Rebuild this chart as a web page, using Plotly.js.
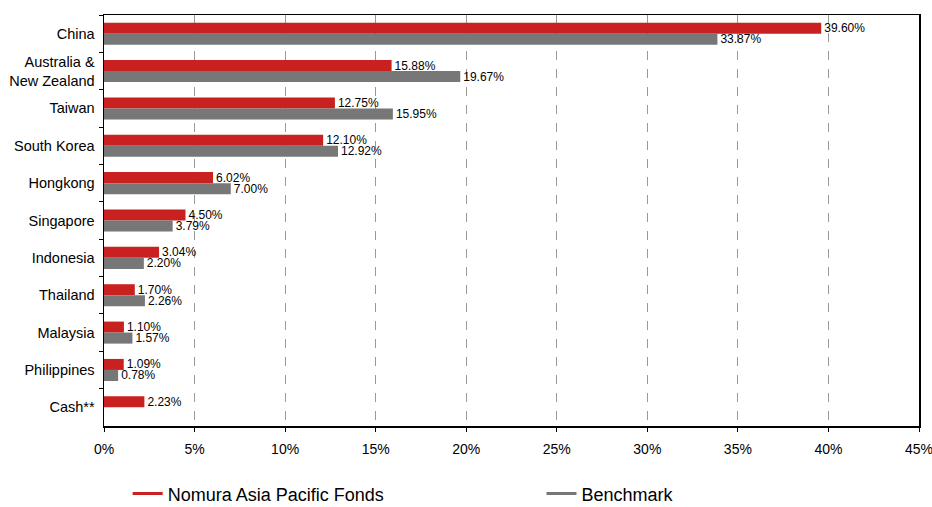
<!DOCTYPE html>
<html><head><meta charset="utf-8">
<script src="https://cdn.plot.ly/plotly-3.0.1.min.js"></script>
<style>html,body{margin:0;padding:0;background:#fff}#chart{width:932px;height:507px}</style>
</head><body><div id="chart"></div>
<script>
const categories = ["China","Australia &<br>New Zealand","Taiwan","South Korea","Hongkong","Singapore","Indonesia","Thailand","Malaysia","Philippines","Cash**"];
const fundValues = [39.60,15.88,12.75,12.10,6.02,4.50,3.04,1.70,1.10,1.09,2.23];
const benchValues = [33.87,19.67,15.95,12.92,7.00,3.79,2.20,2.26,1.57,0.78,null];
const tickVals = [0,5,10,15,20,25,30,35,40,45];
const tickText = tickVals.map(v => v + "%");
const seriesNames = ["Nomura Asia Pacific Fonds","Benchmark"];
const RED = "#C9211F", GRAY = "#777777";
const font = "Liberation Sans, Arial, sans-serif";

const traces = [
  {type:"bar", orientation:"h", y:categories, x:fundValues, name:seriesNames[0], marker:{color:RED},
   texttemplate:"%{x:.2f}%", textposition:"outside", constraintext:"none", textfont:{size:12,color:"#000",family:font},
   cliponaxis:false, showlegend:false, hoverinfo:"x+y"},
  {type:"bar", orientation:"h", y:categories, x:benchValues, name:seriesNames[1], marker:{color:GRAY},
   texttemplate:"%{x:.2f}%", textposition:"outside", constraintext:"none", textfont:{size:12,color:"#000",family:font},
   cliponaxis:false, showlegend:false, hoverinfo:"x+y"},
  {type:"scatter", mode:"lines", x:[null], y:[null], name:seriesNames[0], line:{color:RED,width:3}, showlegend:true, legend:"legend"},
  {type:"scatter", mode:"lines", x:[null], y:[null], name:seriesNames[1], line:{color:GRAY,width:3}, showlegend:true, legend:"legend2"}
];

const legendBase = {orientation:"h", xref:"container", yref:"container", y:0.026, xanchor:"left", yanchor:"middle",
    font:{size:18}, itemwidth:30, bgcolor:"rgba(0,0,0,0)"};

const layout = {
  width:932, height:507,
  margin:{l:104, r:13, t:15, b:81},
  paper_bgcolor:"#fff", plot_bgcolor:"#fff",
  font:{family:font, size:14, color:"#000"},
  barmode:"group", bargap:0.41, bargroupgap:0,
  xaxis:{range:[0,45], tickvals:tickVals, ticktext:tickText, showgrid:true, gridcolor:"#999", griddash:"dash", gridwidth:1,
    showline:true, linecolor:"#000", linewidth:1.5, mirror:true, ticks:"outside", ticklen:4, tickcolor:"#000",
    ticklabelstandoff:6, ticklabeloverflow:"allow",
    zeroline:false, tickfont:{size:14}, fixedrange:true},
  yaxis:{type:"category", autorange:"reversed", tickson:"boundaries", ticks:"outside", ticklen:4, tickcolor:"#000",
    ticklabelstandoff:5,
    showline:true, linecolor:"#000", linewidth:1.5, mirror:true, showgrid:false, tickfont:{size:14.5}, fixedrange:true},
  showlegend:true,
  legend:Object.assign({}, legendBase, {x:0.137}),
  legend2:Object.assign({}, legendBase, {x:0.581})
};
Plotly.newPlot("chart", traces, layout, {displayModeBar:false, staticPlot:true});
</script></body></html>
